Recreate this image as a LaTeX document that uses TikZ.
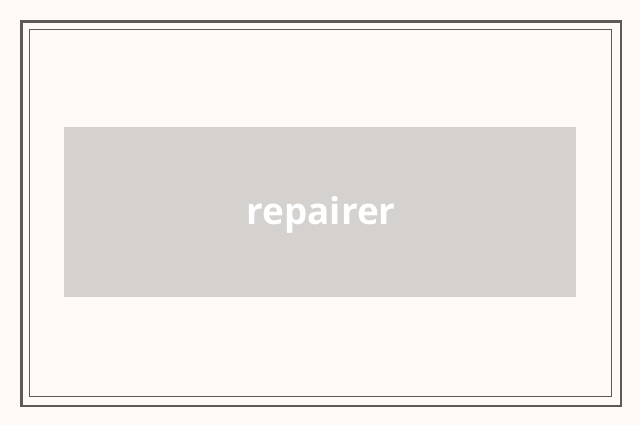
\documentclass[tikz,border=0pt]{standalone}
\usepackage{fontspec}
\setmainfont{Open Sans}
\usepackage{tikz}
\usetikzlibrary{positioning}
\usepackage{xcolor}
\definecolor{paper}{HTML}{FFFAF7}
\definecolor{frameline}{HTML}{5E5A58}
\definecolor{boxfill}{HTML}{D4D1CE}

\begin{document}
\begin{tikzpicture}[
  x=1bp, y=-1bp,
  outerframe/.style={draw=frameline, line width=2.5bp},
  innerframe/.style={draw=frameline, line width=1bp},
  wordbox/.style={rectangle, fill=boxfill, minimum width=512bp, minimum height=170bp, inner sep=0pt},
  wordtext/.style={inner sep=0pt, font=\fontsize{37}{40}\selectfont\bfseries, text=white}
]
  % Page and margins
  \fill[paper] (0,0) rectangle (640,425);
  \useasboundingbox (0,0) rectangle (640,425);

  % Double frame
  \draw[outerframe] (21.5,21.5) rectangle (621,406);
  \draw[innerframe] (29.5,29.5) rectangle (611.5,396.5);

  % Word box
  \node[wordbox] (repairer) at (320,212) {};
  \node[wordtext] (word) at ([xshift=1bp, yshift=-3bp]repairer.center) {repairer};
\end{tikzpicture}
\end{document}
